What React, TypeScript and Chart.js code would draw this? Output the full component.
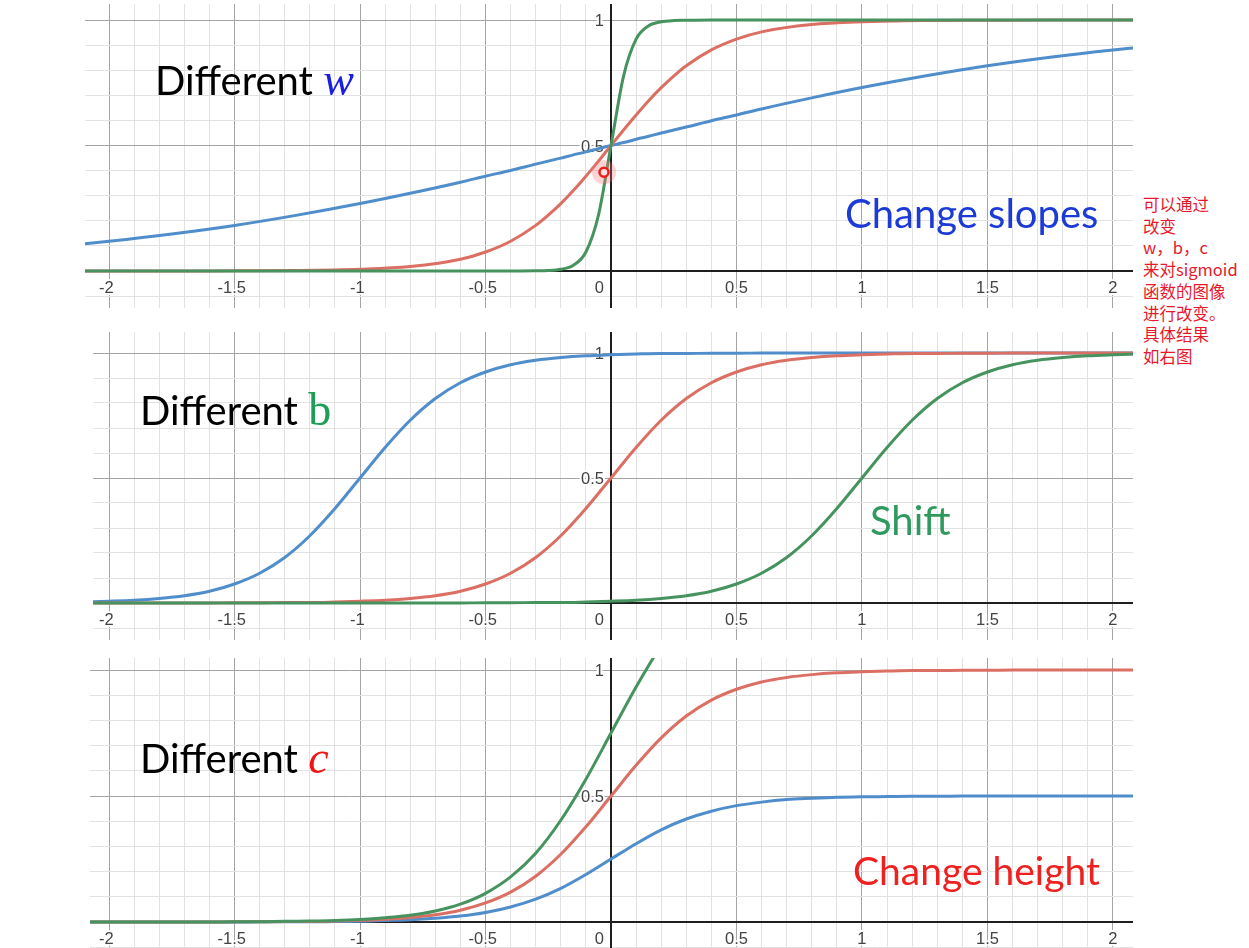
import React, { useEffect, useRef } from "react";
import { Chart, registerables } from "chart.js";

Chart.register(...registerables);

// ---------- tick labels ----------
const X_TICK_VALUES = [-2, -1.5, -1, -0.5, 0, 0.5, 1, 1.5, 2];
const X_TICK_LABELS = ["-2", "-1.5", "-1", "-0.5", "0", "0.5", "1", "1.5", "2"];
const Y_TICK_VALUES = [0.5, 1];
const Y_TICK_LABELS = ["0.5", "1"];

// ---------- panel 1 : different w ----------
const P1_X = [-2.1, -2, -1.75, -1.5, -1.25, -1, -0.8, -0.6, -0.5, -0.4, -0.3, -0.25, -0.2, -0.15, -0.1, -0.05, 0, 0.05, 0.1, 0.15, 0.2, 0.25, 0.3, 0.4, 0.5, 0.6, 0.8, 1, 1.25, 1.5, 1.75, 2, 2.1];
const P1_BLUE = [0.109, 0.119, 0.148, 0.182, 0.223, 0.269, 0.31, 0.354, 0.378, 0.401, 0.426, 0.438, 0.45, 0.463, 0.475, 0.488, 0.5, 0.512, 0.525, 0.537, 0.55, 0.562, 0.574, 0.599, 0.622, 0.646, 0.69, 0.731, 0.777, 0.818, 0.852, 0.881, 0.891];
const P1_RED = [0, 0, 0, 0.001, 0.002, 0.007, 0.018, 0.047, 0.076, 0.119, 0.182, 0.223, 0.269, 0.321, 0.378, 0.438, 0.5, 0.562, 0.622, 0.679, 0.731, 0.777, 0.818, 0.881, 0.924, 0.953, 0.982, 0.993, 0.998, 0.999, 1, 1, 1];
const P1_GREEN = [0, 0, 0, 0, 0, 0, 0, 0, 0, 0, 0.001, 0.002, 0.007, 0.023, 0.076, 0.223, 0.5, 0.777, 0.924, 0.977, 0.993, 0.998, 0.999, 1, 1, 1, 1, 1, 1, 1, 1, 1, 1];
const CURSOR_X = [-0.028];
const CURSOR_Y = [0.394];

// ---------- panels 2 and 3 share the same sample positions ----------
const P23_X = [-2.1, -2.0, -1.9, -1.8, -1.7, -1.6, -1.5, -1.4, -1.3, -1.2, -1.1, -1.0, -0.9, -0.8, -0.7, -0.6, -0.5, -0.4, -0.3, -0.2, -0.1, 0, 0.1, 0.2, 0.3, 0.4, 0.5, 0.6, 0.7, 0.8, 0.9, 1.0, 1.1, 1.2, 1.3, 1.4, 1.5, 1.6, 1.7, 1.8, 1.9, 2.0, 2.1];

// panel 2 : different b
const P2_BLUE = [0.004, 0.007, 0.011, 0.018, 0.029, 0.047, 0.076, 0.119, 0.182, 0.269, 0.378, 0.5, 0.622, 0.731, 0.818, 0.881, 0.924, 0.953, 0.971, 0.982, 0.989, 0.993, 0.996, 0.998, 0.998, 0.999, 0.999, 1, 1, 1, 1, 1, 1, 1, 1, 1, 1, 1, 1, 1, 1, 1, 1];
const P2_RED = [0, 0, 0, 0, 0, 0, 0.001, 0.001, 0.002, 0.002, 0.004, 0.007, 0.011, 0.018, 0.029, 0.047, 0.076, 0.119, 0.182, 0.269, 0.378, 0.5, 0.622, 0.731, 0.818, 0.881, 0.924, 0.953, 0.971, 0.982, 0.989, 0.993, 0.996, 0.998, 0.998, 0.999, 0.999, 1, 1, 1, 1, 1, 1];
const P2_GREEN = [0, 0, 0, 0, 0, 0, 0, 0, 0, 0, 0, 0, 0, 0, 0, 0, 0.001, 0.001, 0.002, 0.002, 0.004, 0.007, 0.011, 0.018, 0.029, 0.047, 0.076, 0.119, 0.182, 0.269, 0.378, 0.5, 0.622, 0.731, 0.818, 0.881, 0.924, 0.953, 0.971, 0.982, 0.989, 0.993, 0.996];

// panel 3 : different c
const P3_BLUE = [0, 0, 0, 0, 0, 0, 0, 0.001, 0.001, 0.001, 0.002, 0.003, 0.006, 0.009, 0.015, 0.024, 0.038, 0.06, 0.091, 0.134, 0.189, 0.25, 0.311, 0.366, 0.409, 0.44, 0.462, 0.476, 0.486, 0.491, 0.495, 0.497, 0.498, 0.499, 0.499, 0.5, 0.5, 0.5, 0.5, 0.5, 0.5, 0.5, 0.5];
const P3_RED = [0, 0, 0, 0, 0, 0, 0.001, 0.001, 0.002, 0.002, 0.004, 0.007, 0.011, 0.018, 0.029, 0.047, 0.076, 0.119, 0.182, 0.269, 0.378, 0.5, 0.622, 0.731, 0.818, 0.881, 0.924, 0.953, 0.971, 0.982, 0.989, 0.993, 0.996, 0.998, 0.998, 0.999, 0.999, 1, 1, 1, 1, 1, 1];
const P3_GREEN = [0, 0, 0, 0, 0, 0, 0.001, 0.001, 0.003, 0.004, 0.006, 0.01, 0.017, 0.027, 0.044, 0.071, 0.114, 0.179, 0.273, 0.404, 0.567, 0.75, 0.933, 1.097, 1.227, 1.322, 1.386, 1.43, 1.457, 1.473, 1.484, 1.49, 1.494, 1.497, 1.497, 1.499, 1.499, 1.5, 1.5, 1.5, 1.5, 1.5, 1.5];

// ---------- annotation text ----------
const NOTE_LINES = ["可以通过", "改变", "w，b，c", "来对sigmoid", "函数的图像", "进行改变。", "具体结果", "如右图"];

const BLUE = "#4f8dcb";
const RED = "#db6f63";
const GREEN = "#46935f";

const pts = (xs: number[], ys: number[]) => xs.map((x, i) => ({ x, y: ys[i] }));

const curve = (xs: number[], ys: number[], color: string) => ({
  data: pts(xs, ys),
  showLine: true,
  borderColor: color,
  backgroundColor: color,
  borderWidth: 3,
  pointRadius: 0,
  cubicInterpolationMode: "monotone" as const,
});

const gridColor = (ctx: any) => {
  const v = ctx && ctx.tick ? ctx.tick.value : 1;
  const k = Math.round(v * 10);
  if (k === 0) return "rgba(0,0,0,0)";
  if (k % 5 === 0) return "#a4a4a4";
  return "#e2e2e2";
};

const desmosPlugin = {
  id: "desmosAxes",
  beforeDatasetsDraw(chart: any) {
    const { ctx, chartArea } = chart;
    const xs = chart.scales.x;
    const ys = chart.scales.y;
    const x0 = Math.round(xs.getPixelForValue(0));
    const y0 = Math.round(ys.getPixelForValue(0));
    ctx.save();
    ctx.strokeStyle = "#1f1f1f";
    ctx.lineWidth = 2;
    ctx.beginPath();
    ctx.moveTo(chartArea.left, y0);
    ctx.lineTo(chartArea.right, y0);
    ctx.moveTo(x0, chartArea.top);
    ctx.lineTo(x0, chartArea.bottom);
    ctx.stroke();

    ctx.font = '16.5px "Liberation Sans", Arial, sans-serif';
    ctx.lineJoin = "round";
    ctx.textBaseline = "alphabetic";
    const drawLabel = (text: string, left: number, base: number) => {
      ctx.textAlign = "left";
      ctx.strokeStyle = "rgba(255,255,255,0.95)";
      ctx.lineWidth = 4;
      ctx.strokeText(text, left, base);
      ctx.fillStyle = "#434343";
      ctx.fillText(text, left, base);
    };
    X_TICK_VALUES.forEach((v, i) => {
      const label = X_TICK_LABELS[i];
      const px = xs.getPixelForValue(v);
      const base = y0 + 22;
      if (v === 0) {
        const w = ctx.measureText(label).width;
        drawLabel(label, x0 - 7 - w, base);
        return;
      }
      const neg = label.startsWith("-");
      const digits = neg ? label.slice(1) : label;
      const wd = ctx.measureText(digits).width;
      const wm = neg ? ctx.measureText("-").width : 0;
      drawLabel(label, px - wd / 2 - wm, base);
    });
    Y_TICK_VALUES.forEach((v, i) => {
      const label = Y_TICK_LABELS[i];
      const py = ys.getPixelForValue(v);
      const w = ctx.measureText(label).width;
      drawLabel(label, x0 - 7 - w, py + 6);
    });
    ctx.restore();
  },
};

const makeChart = (
  canvas: HTMLCanvasElement,
  xmin: number,
  xmax: number,
  ymin: number,
  ymax: number,
  datasets: any[]
) =>
  new Chart(canvas, {
    type: "scatter",
    data: { datasets },
    options: {
      animation: false,
      responsive: false,
      maintainAspectRatio: false,
      events: [],
      layout: { padding: 0, autoPadding: false },
      plugins: { legend: { display: false }, tooltip: { enabled: false } },
      scales: {
        x: {
          type: "linear",
          min: xmin,
          max: xmax,
          ticks: { display: false, stepSize: 0.1, includeBounds: false, autoSkip: false, maxTicksLimit: 1000 },
          grid: { color: gridColor, lineWidth: 1, drawTicks: false },
          border: { display: false },
        },
        y: {
          type: "linear",
          min: ymin,
          max: ymax,
          ticks: { display: false, stepSize: 0.1, includeBounds: false, autoSkip: false, maxTicksLimit: 1000 },
          grid: { color: gridColor, lineWidth: 1, drawTicks: false },
          border: { display: false },
        },
      },
    } as any,
    plugins: [desmosPlugin],
  });

const latin = 'Lato, "Open Sans", sans-serif';
const serif = '"Liberation Serif", "DejaVu Serif", serif';

function Label(props: { left: number; top: number; size: number; children: React.ReactNode }) {
  return (
    <div
      style={{
        position: "absolute",
        left: props.left,
        top: props.top,
        fontFamily: latin,
        fontSize: props.size,
        lineHeight: `${props.size}px`,
        whiteSpace: "nowrap",
        color: "#000",
      }}
    >
      {props.children}
    </div>
  );
}

export default function App() {
  const c1 = useRef<HTMLCanvasElement>(null);
  const c2 = useRef<HTMLCanvasElement>(null);
  const c3 = useRef<HTMLCanvasElement>(null);

  useEffect(() => {
    const charts: Chart[] = [];
    charts.push(
      makeChart(c1.current!, -2.096, 2.08, -0.147, 1.064, [
        {
          data: pts(CURSOR_X, CURSOR_Y),
          pointRadius: 4.5,
          pointBorderWidth: 2.5,
          borderColor: "#f01c1c",
          backgroundColor: "#ffe2e2",
          pointBorderColor: "#f01c1c",
          pointBackgroundColor: "#ffe2e2",
        },
        {
          data: pts(CURSOR_X, CURSOR_Y),
          pointRadius: 12,
          pointBorderWidth: 0,
          borderColor: "rgba(0,0,0,0)",
          backgroundColor: "rgba(255,110,110,0.3)",
          pointBackgroundColor: "rgba(255,110,110,0.3)",
        },
        curve(P1_X, P1_GREEN, GREEN),
        curve(P1_X, P1_RED, RED),
        curve(P1_X, P1_BLUE, BLUE),
      ])
    );
    charts.push(
      makeChart(c2.current!, -2.064, 2.08, -0.148, 1.084, [
        curve(P23_X, P2_GREEN, GREEN),
        curve(P23_X, P2_RED, RED),
        curve(P23_X, P2_BLUE, BLUE),
      ])
    );
    charts.push(
      makeChart(c3.current!, -2.076, 2.08, -0.103, 1.048, [
        curve(P23_X, P3_GREEN, GREEN),
        curve(P23_X, P3_RED, RED),
        curve(P23_X, P3_BLUE, BLUE),
      ])
    );
    return () => charts.forEach((c) => c.destroy());
  }, []);

  const cv = (left: number, top: number, w: number, h: number): React.CSSProperties => ({
    position: "absolute",
    left,
    top,
    width: w,
    height: h,
  });

  return (
    <div
      style={{
        position: "absolute",
        left: 0,
        top: 0,
        width: 1249,
        height: 948,
        background: "#fff",
        overflow: "hidden",
      }}
    >
      <canvas ref={c1} width={1048} height={304} style={cv(85, 4, 1048, 304)} />
      <canvas ref={c2} width={1040} height={308} style={cv(93, 332, 1040, 308)} />
      <canvas ref={c3} width={1043} height={290} style={cv(90, 658, 1043, 290)} />

      <Label left={155} top={60} size={40}>
        Different{" "}
        <span style={{ fontFamily: serif, fontStyle: "italic", color: "#1a1ee0", fontSize: 46 }}>w</span>
      </Label>
      <Label left={845} top={193} size={40}>
        <span style={{ color: "#1c3ad6" }}>Change slopes</span>
      </Label>

      <Label left={140} top={390} size={40}>
        Different{" "}
        <span style={{ fontFamily: serif, color: "#1e9e55", fontSize: 46 }}>b</span>
      </Label>
      <Label left={870} top={500} size={40}>
        <span style={{ color: "#2f9a5e" }}>Shift</span>
      </Label>

      <Label left={140} top={738} size={40}>
        Different{" "}
        <span style={{ fontFamily: serif, fontStyle: "italic", color: "#f01414", fontSize: 46 }}>c</span>
      </Label>
      <Label left={853} top={851} size={39}>
        <span style={{ color: "#ef2020" }}>Change height</span>
      </Label>

      <div
        style={{
          position: "absolute",
          left: 1143,
          top: 194,
          fontFamily: '"Noto Sans CJK SC", sans-serif',
          fontSize: 16.5,
          lineHeight: "21.7px",
          color: "#e8182a",
          whiteSpace: "nowrap",
        }}
      >
        {NOTE_LINES.map((l, i) => (
          <div key={i}>{l}</div>
        ))}
      </div>
    </div>
  );
}
